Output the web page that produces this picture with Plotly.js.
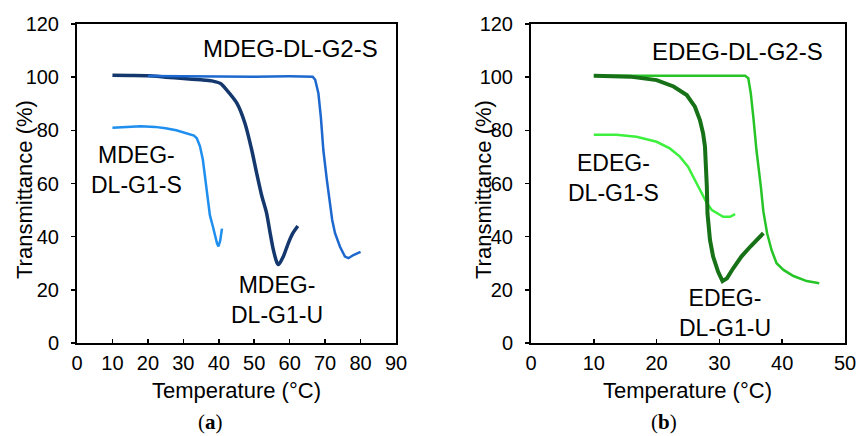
<!DOCTYPE html>
<html>
<head>
<meta charset="utf-8">
<script src="https://cdn.plot.ly/plotly-3.0.1.min.js"></script>
<style>html,body{margin:0;padding:0;background:#fff;}#chart{width:857px;height:436px;}</style>
</head>
<body>
<div id="chart"></div>
<script>
// Panel (a): MDEG series
const mG1S_T = [10, 14, 18, 22, 25, 28, 30.9, 33, 33.8, 34.7, 35.5, 36.1, 36.8, 37.5, 38.3, 39.0, 39.5, 39.9, 40.4, 40.9];
const mG1S_Y = [81, 81.3, 81.5, 81.3, 80.8, 80, 79, 78, 77, 74, 69, 62.5, 54, 48, 44, 40, 37.5, 36.3, 38.5, 43];

const mG1U_T = [10, 15, 20, 25, 30, 35, 38, 40.5, 42.2, 45.1, 47.4, 49.3, 50.7, 52.1, 53.5, 54.5, 55.4, 56.5, 56.9, 58.2, 59.6, 60.9, 62.3];
const mG1U_Y = [100.7, 100.6, 100.5, 100, 99.5, 99, 98.6, 97.6, 95.2, 90.2, 82.6, 72.6, 63.8, 55.5, 48.8, 41.3, 35, 30, 29.5, 32.5, 37.5, 41.3, 44];

const mG2S_T = [20, 30, 40, 50, 60, 66.5, 67.2, 68.1, 68.8, 69.5, 70.5, 71.4, 72, 72.8, 74.2, 75.6, 76.6, 78, 80];
const mG2S_Y = [100.4, 100.3, 100.3, 100.2, 100.3, 100.2, 99, 94, 85, 72.6, 61.3, 52, 46.3, 41.3, 36.2, 32.5, 31.9, 33.1, 34.3];

// Panel (b): EDEG series
const eG1S_T = [10, 13.6, 16.8, 20, 22.1, 23.7, 25, 26.1, 27.2, 28, 28.8, 30.1, 30.6, 31.7, 32.5];
const eG1S_Y = [78.3, 78.3, 77.6, 75.7, 73.2, 70.1, 66.3, 61.3, 56.3, 52.6, 50, 48.2, 47.5, 47.5, 48.5];

const eG2S_T = [10, 15, 20, 25, 30, 34.1, 34.6, 35, 35.4, 35.9, 36.6, 37.0, 37.6, 38.3, 39.1, 40.2, 41.8, 43.9, 45.9];
const eG2S_Y = [100.5, 100.5, 100.5, 100.5, 100.5, 100.5, 99.6, 93.9, 85.1, 72.6, 58.8, 49.5, 41.3, 35, 30, 27.5, 25.2, 23.3, 22.5];

const eG1U_T = [10, 15.8, 20, 22.7, 24.8, 26.1, 26.9, 27.4, 27.7, 27.9, 28.0, 28.1, 28.2, 28.5, 29.0, 29.8, 30.5, 31.2, 32.2, 33.5, 34.9, 36.2, 37.0];
const eG1U_Y = [100.5, 100.2, 98.9, 96.5, 93.3, 88.9, 83.9, 78.9, 73.9, 66.3, 58.8, 48.8, 46.3, 38.8, 32.5, 26.8, 23.3, 24.3, 28.1, 32.5, 36.2, 39.4, 41.3];

const xTicksA = [0, 10, 20, 30, 40, 50, 60, 70, 80, 90];
const xTicksB = [0, 10, 20, 30, 40, 50];
const yTicks = [0, 20, 40, 60, 80, 100, 120];

const SANS = 'Liberation Sans, Arial, sans-serif';

const traces = [
  {x: mG1S_T, y: mG1S_Y, xaxis: 'x', yaxis: 'y', mode: 'lines', line: {color: '#1E8EEF', width: 2.5}},
  {x: mG1U_T, y: mG1U_Y, xaxis: 'x', yaxis: 'y', mode: 'lines', line: {color: '#14386E', width: 3.5, shape: 'spline', smoothing: 0.6}},
  {x: mG2S_T, y: mG2S_Y, xaxis: 'x', yaxis: 'y', mode: 'lines', line: {color: '#1C68CE', width: 2.5}},
  {x: eG1S_T, y: eG1S_Y, xaxis: 'x2', yaxis: 'y2', mode: 'lines', line: {color: '#3EF03E', width: 2.5}},
  {x: eG2S_T, y: eG2S_Y, xaxis: 'x2', yaxis: 'y2', mode: 'lines', line: {color: '#26C426', width: 2.5}},
  {x: eG1U_T, y: eG1U_Y, xaxis: 'x2', yaxis: 'y2', mode: 'lines', line: {color: '#177217', width: 4}}
];

function xax(domain, range, ticks, anchor) {
  return {domain: domain, range: range, tickvals: ticks, ticktext: ticks.map(String),
    showgrid: false, zeroline: false, showline: true, linecolor: '#000', linewidth: 2,
    mirror: true, ticks: 'inside', ticklen: 4, tickwidth: 1.5, tickcolor: '#000',
    tickfont: {family: SANS, size: 20, color: '#000'}, ticklabelstandoff: 1, anchor: anchor, fixedrange: true};
}
function yax(domain, ticks, anchor) {
  return {domain: domain, range: [0, 120], tickvals: ticks, ticktext: ticks.map(String),
    showgrid: false, zeroline: false, showline: true, linecolor: '#000', linewidth: 2,
    mirror: true, ticks: 'outside', ticklen: 4, tickwidth: 1.5, tickcolor: '#000',
    tickfont: {family: SANS, size: 20, color: '#000'}, ticklabelstandoff: 8, anchor: anchor, fixedrange: true};
}

const W = 857, H = 436;
const yDom = [(H - 343) / H, (H - 24) / H];

function txt(text, x, y, xref, yref, size, extra) {
  return Object.assign({text: text, x: x, y: y, xref: xref, yref: yref, showarrow: false,
    xanchor: 'center', yanchor: 'middle', font: {family: SANS, size: size, color: '#000'}}, extra || {});
}

const annotations = [
  txt('MDEG-DL-G2-S', 60.3, 110.6, 'x', 'y', 24),
  txt('MDEG-<br>DL-G1-S', 16.9, 65, 'x', 'y', 23),
  txt('MDEG-<br>DL-G1-U', 56.4, 16.2, 'x', 'y', 23),
  txt('EDEG-DL-G2-S', 32.9, 109.7, 'x2', 'y2', 24),
  txt('EDEG-<br>DL-G1-S', 13.1, 62, 'x2', 'y2', 23),
  txt('EDEG-<br>DL-G1-U', 30.9, 11.3, 'x2', 'y2', 23),
  txt('Temperature (°C)', 236 / W, (H - 390) / H, 'paper', 'paper', 22),
  txt('Temperature (°C)', 687.5 / W, (H - 390) / H, 'paper', 'paper', 22),
  txt('Transmittance (%)', 24 / W, (H - 190) / H, 'paper', 'paper', 22, {textangle: -90}),
  txt('Transmittance (%)', 483 / W, (H - 190) / H, 'paper', 'paper', 22, {textangle: -90}),
  {text: '(<b>a</b>)', x: 210 / W, y: (H - 422) / H, xref: 'paper', yref: 'paper', showarrow: false,
    xanchor: 'center', yanchor: 'middle', font: {family: 'Liberation Serif, Times New Roman, serif', size: 21, color: '#000'}},
  {text: '(<b>b</b>)', x: 664 / W, y: (H - 422) / H, xref: 'paper', yref: 'paper', showarrow: false,
    xanchor: 'center', yanchor: 'middle', font: {family: 'Liberation Serif, Times New Roman, serif', size: 21, color: '#000'}}
];

const layout = {
  width: W, height: H,
  margin: {l: 0, r: 0, t: 0, b: 0},
  paper_bgcolor: '#fff', plot_bgcolor: '#fff',
  showlegend: false,
  xaxis: xax([77 / W, 396 / W], [0, 90], xTicksA, 'y'),
  yaxis: yax(yDom, yTicks, 'x'),
  xaxis2: xax([531 / W, 845 / W], [0, 50], xTicksB, 'y2'),
  yaxis2: yax(yDom, yTicks, 'x2'),
  annotations: annotations
};

Plotly.newPlot('chart', traces, layout, {staticPlot: true, displayModeBar: false});
</script>
</body>
</html>
